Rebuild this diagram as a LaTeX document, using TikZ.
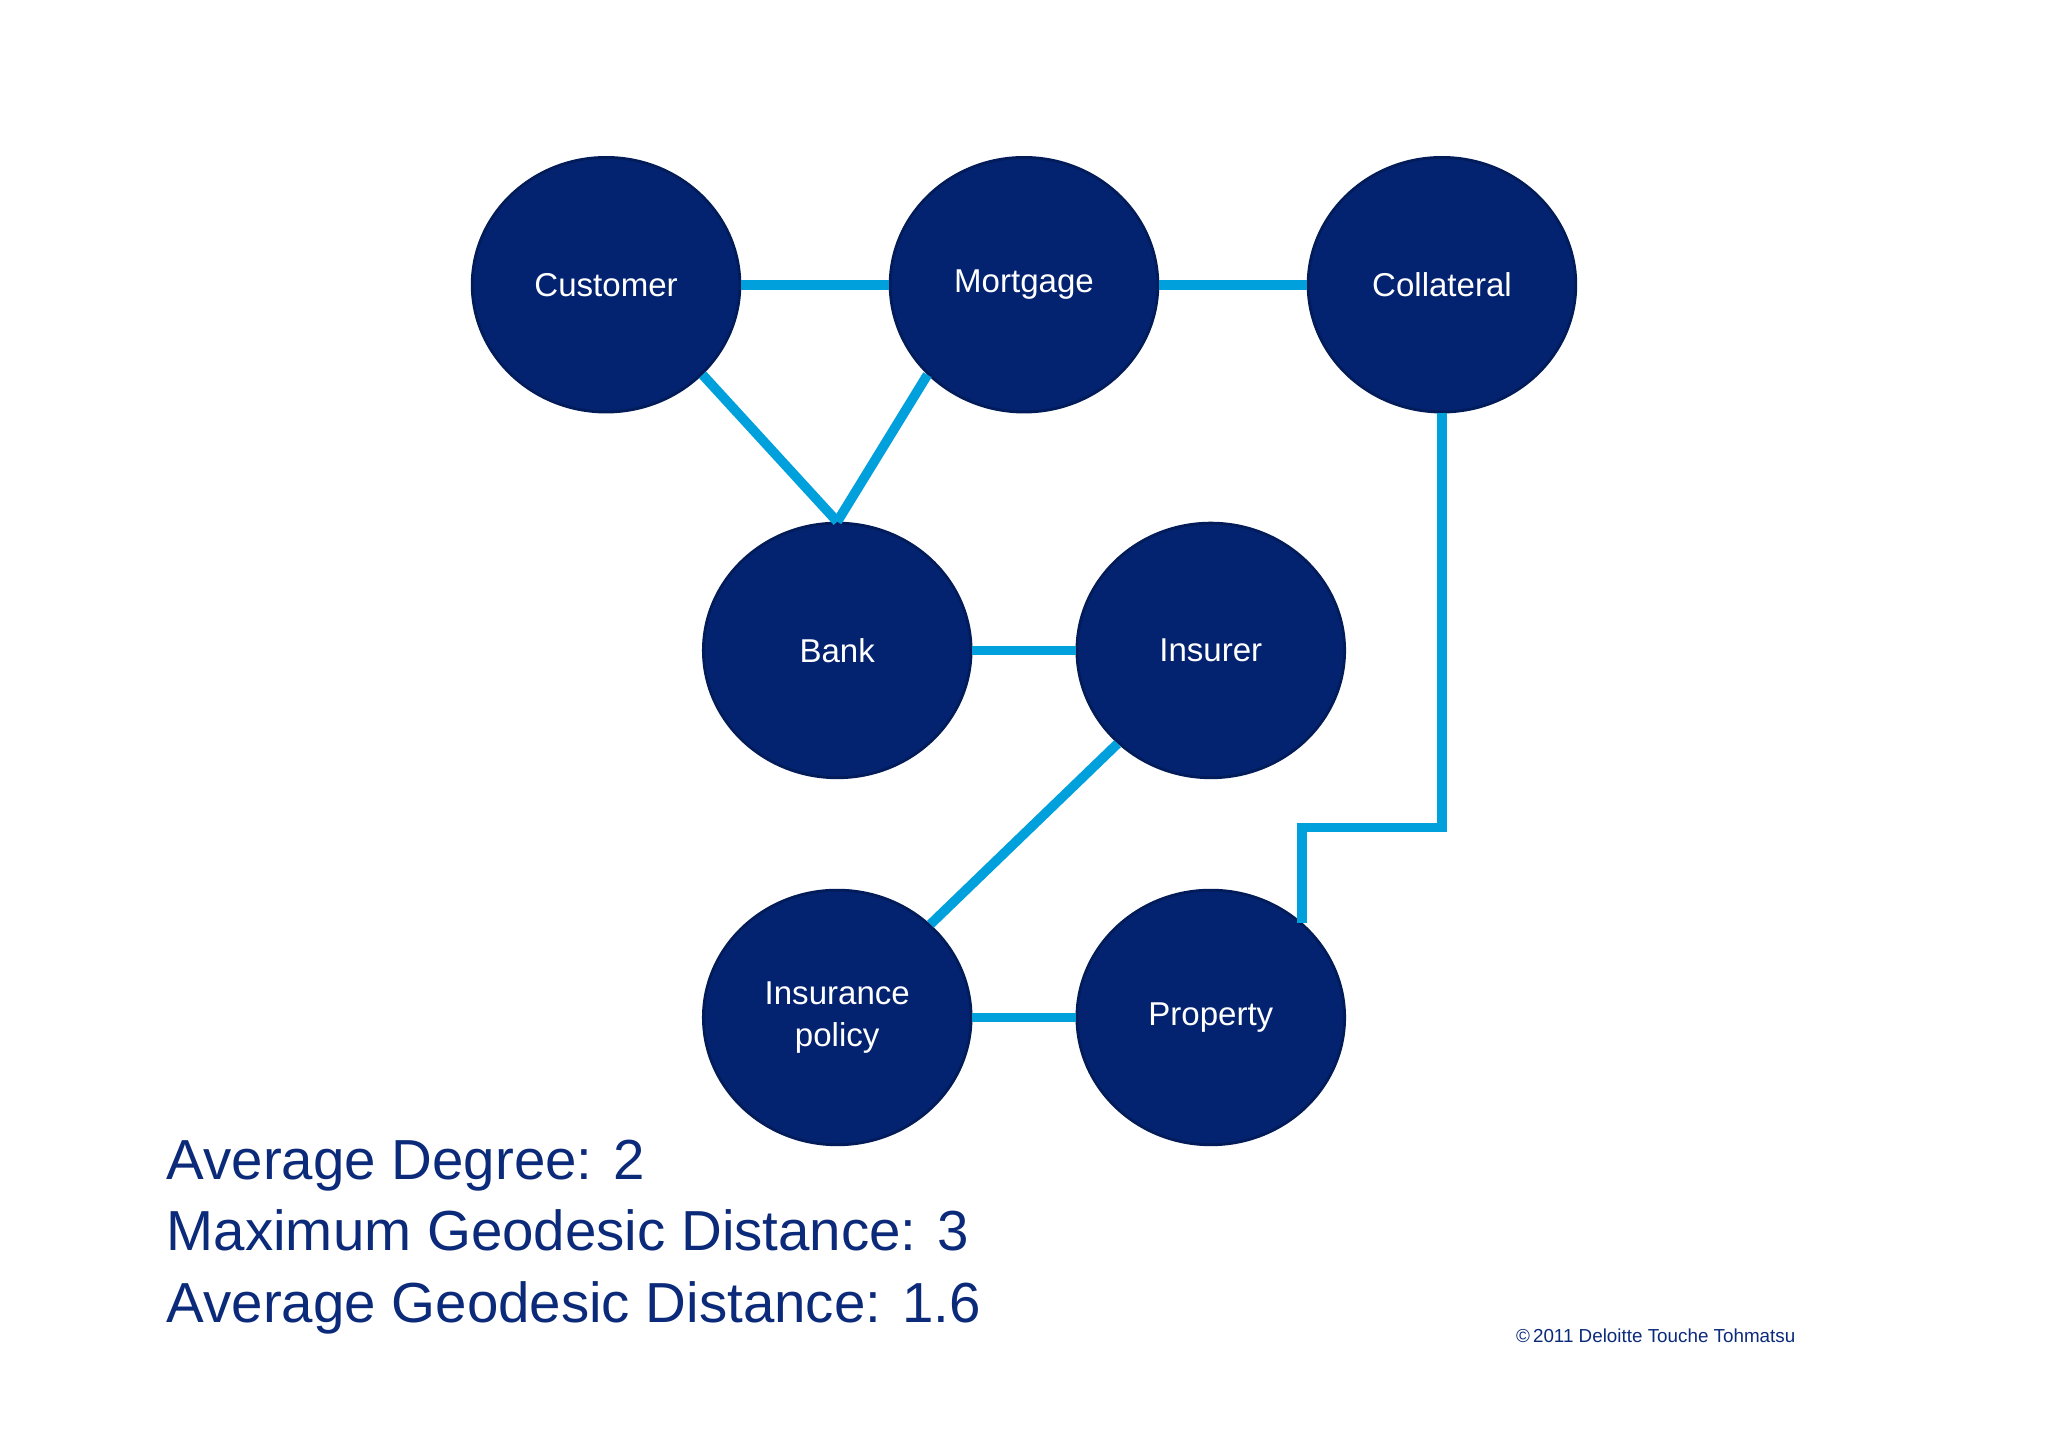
\documentclass[tikz,border=0pt]{standalone}
\usepackage{fontspec}
\setmainfont{Liberation Sans}
\usetikzlibrary{shapes.geometric}
\definecolor{navy}{HTML}{03226F}
\definecolor{navytext}{HTML}{0C2A7A}
\definecolor{linkblue}{HTML}{00A0DC}
\tikzset{ent/.style={ellipse,fill=navy,draw=navy!80!black,line width=0.6pt,minimum width=2.05cm,minimum height=1.95cm,inner sep=0pt,text=white,font=\fontsize{7.2}{9}\selectfont,align=center},
link/.style={linkblue,line width=2.1pt}}
\begin{document}
\begin{tikzpicture}
\useasboundingbox[fill=white] (0,0) rectangle (15.68,11.08);
\node[ent] (cust) at (4.64,8.90) {Customer};
\node[ent] (mort) at (7.84,8.90) {Mortgage};
\node[ent] (coll) at (11.04,8.90) {Collateral};
\node[ent] (bank) at (6.41,6.10) {Bank};
\node[ent] (ins) at (9.27,6.10) {Insurer};
\node[ent] (pol) at (6.41,3.29) {Insurance\\policy};
\node[ent] (prop) at (9.27,3.29) {Property};
\draw[link] (cust.east) -- (mort.west);
\draw[link] (mort.east) -- (coll.west);
\draw[link] (cust.-43) -- (bank.north);
\draw[link] (mort.-137) -- (bank.north);
\draw[link] (bank.east) -- (ins.west);
\draw[link] (ins.-135) -- (pol.45);
\draw[link] (pol.east) -- (prop.west);
\draw[link] (coll.south) -- ++(0,-3.17) coordinate (bend) -| (prop.46);
\node[anchor=north west,text=navytext,font=\fontsize{12.3}{15.6}\selectfont,align=left,inner sep=0pt] (stats) at (1.27,2.36) {Average Degree: 2\\Maximum Geodesic Distance: 3\\Average Geodesic Distance: 1.6};
\node[anchor=west,text=navytext,font=\fontsize{4.1}{5}\selectfont,inner sep=0pt] (copy) at (11.6,0.85) {\textcopyright\,2011 Deloitte Touche Tohmatsu};
\end{tikzpicture}
\end{document}
